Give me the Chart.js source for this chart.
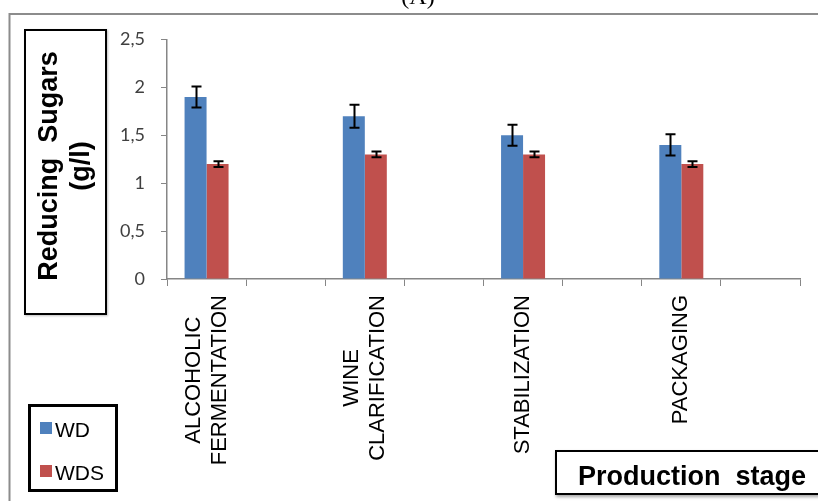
<!DOCTYPE html>
<html>
<head>
<meta charset="utf-8">
<script src="https://cdn.jsdelivr.net/npm/chart.js@4.4.1/dist/chart.umd.min.js"></script>
<style>
  html, body { margin: 0; padding: 0; background: #fff; }
  canvas { display: block; }
</style>
</head>
<body>
<canvas id="chart" width="818" height="501"></canvas>
<script>
// Production stages (empty slots keep the spacing between groups)
const stages = [['ALCOHOLIC', 'FERMENTATION'], '', ['WINE', 'CLARIFICATION'], '', 'STABILIZATION', '', 'PACKAGING', ''];
// Reducing sugars (g/l) and their standard deviations
const wdValues  = [1.9, null, 1.7, null, 1.5, null, 1.4, null];
const wdErrors  = [0.11, null, 0.12, null, 0.11, null, 0.11, null];
const wdsValues = [1.2, null, 1.3, null, 1.3, null, 1.2, null];
const wdsErrors = [0.03, null, 0.03, null, 0.03, null, 0.03, null];
const yTicks = [0, 0.5, 1, 1.5, 2, 2.5];
const seriesNames = ['WD', 'WDS'];
const yTitleLines = ['Reducing  Sugars', '(g/l)'];
const xTitle = 'Production  stage';
const panelTag = '(A)';

const COLORS = ['#4F81BD', '#C0504D'];
const AXIS_GREY = '#868686';

// Page background, outer frame and panel tag
const framePlugin = {
  id: 'frame',
  beforeDraw(chart) {
    const ctx = chart.ctx;
    ctx.save();
    ctx.fillStyle = '#fff';
    ctx.fillRect(0, 0, chart.width, chart.height);
    ctx.strokeStyle = '#8c8c8c';
    ctx.lineWidth = 2;
    ctx.beginPath();
    ctx.moveTo(9.5, chart.height + 2);
    ctx.lineTo(9.5, 14);
    ctx.lineTo(chart.width + 2, 14);
    ctx.stroke();
    ctx.fillStyle = '#000';
    ctx.font = '24px "Liberation Serif"';
    ctx.textAlign = 'center';
    ctx.textBaseline = 'alphabetic';
    ctx.fillText(panelTag, 418, 4);
    ctx.restore();
  }
};

// Error bars on top of each bar
const errorBarPlugin = {
  id: 'errorBars',
  afterDatasetsDraw(chart) {
    const ctx = chart.ctx;
    const y = chart.scales.y;
    ctx.save();
    ctx.strokeStyle = '#000';
    ctx.lineWidth = 2;
    chart.data.datasets.forEach((ds, di) => {
      const meta = chart.getDatasetMeta(di);
      meta.data.forEach((bar, i) => {
        const v = ds.data[i], e = ds.errors[i];
        if (v == null || e == null) return;
        const x = Math.round(bar.x) + 0.5;
        const yTop = y.getPixelForValue(v + e);
        const yBot = y.getPixelForValue(v - e);
        const half = 5;
        ctx.beginPath();
        ctx.moveTo(x, yTop); ctx.lineTo(x, yBot);
        ctx.moveTo(x - half, yTop); ctx.lineTo(x + half, yTop);
        ctx.moveTo(x - half, yBot); ctx.lineTo(x + half, yBot);
        ctx.stroke();
      });
    });
    ctx.restore();
  }
};

// Category labels, axis titles in boxes and the legend box
const decorPlugin = {
  id: 'decor',
  afterDraw(chart) {
    const ctx = chart.ctx;
    const xs = chart.scales.x;
    ctx.save();

    // rotated, centred category labels
    ctx.fillStyle = '#000';
    ctx.font = '22px "Liberation Sans"';
    ctx.textAlign = 'center';
    ctx.textBaseline = 'middle';
    const labelTop = xs.top + 16;
    const lineGap = 26;
    stages.forEach((lab, i) => {
      const lines = Array.isArray(lab) ? lab : [lab];
      if (!lines.join('')) return;
      const maxW = Math.max(...lines.map(l => ctx.measureText(l).width));
      const cx = xs.getPixelForValue(i);
      const cy = labelTop + maxW / 2;
      ctx.save();
      ctx.translate(cx, cy);
      ctx.rotate(-Math.PI / 2);
      lines.forEach((l, k) => {
        ctx.fillText(l, 0, (k - (lines.length - 1) / 2) * lineGap);
      });
      ctx.restore();
    });

    // y-axis title box
    ctx.lineWidth = 2;
    ctx.strokeStyle = '#000';
    ctx.save();
    ctx.shadowColor = 'rgba(0,0,0,0.25)';
    ctx.shadowOffsetX = 1;
    ctx.shadowOffsetY = 1;
    ctx.shadowBlur = 2;
    ctx.fillStyle = '#fff';
    ctx.fillRect(24, 29, 83, 286);
    ctx.restore();
    ctx.strokeRect(25, 30, 81, 284);
    ctx.save();
    ctx.translate(66, 166);
    ctx.rotate(-Math.PI / 2);
    ctx.fillStyle = '#000';
    ctx.font = 'bold 27px "Liberation Sans"';
    ctx.textAlign = 'center';
    ctx.textBaseline = 'alphabetic';
    ctx.fillText(yTitleLines[0], 0, -9);
    ctx.fillText(yTitleLines[1], 0, 23);
    ctx.restore();

    // x-axis title box
    ctx.save();
    ctx.shadowColor = 'rgba(0,0,0,0.35)';
    ctx.shadowOffsetX = 1;
    ctx.shadowOffsetY = 2;
    ctx.shadowBlur = 3;
    ctx.fillStyle = '#fff';
    ctx.fillRect(555, 450, 280, 45);
    ctx.restore();
    ctx.strokeRect(556, 451, 280, 43);
    ctx.fillStyle = '#000';
    ctx.font = 'bold 27px "Liberation Sans"';
    ctx.textAlign = 'left';
    ctx.textBaseline = 'alphabetic';
    ctx.fillText(xTitle, 578, 485);

    // legend box
    ctx.lineWidth = 3;
    ctx.strokeRect(29.5, 405.5, 87, 85);
    ctx.font = '21px "Liberation Sans"';
    const legendRows = [422, 465];
    chart.data.datasets.forEach((ds, di) => {
      const top = legendRows[di];
      ctx.fillStyle = ds.backgroundColor;
      ctx.fillRect(40, top, 12, 12);
      ctx.fillStyle = '#000';
      ctx.fillText(ds.label, 55, top + 15);
    });

    ctx.restore();
  }
};

new Chart(document.getElementById('chart'), {
  type: 'bar',
  data: {
    labels: stages,
    datasets: [
      { label: seriesNames[0], data: wdValues, errors: wdErrors, backgroundColor: COLORS[0] },
      { label: seriesNames[1], data: wdsValues, errors: wdsErrors, backgroundColor: COLORS[1] }
    ]
  },
  options: {
    responsive: false,
    animation: false,
    devicePixelRatio: 1,
    layout: { padding: { left: 0, top: 39.5, right: 18, bottom: 0 } },
    datasets: { bar: { categoryPercentage: 0.556, barPercentage: 1 } },
    plugins: { legend: { display: false }, tooltip: { enabled: false }, title: { display: false } },
    scales: {
      x: {
        offset: true,
        grid: { display: true, offset: true, drawOnChartArea: false, tickLength: 7, color: AXIS_GREY },
        border: { color: AXIS_GREY, width: 1.5 },
        ticks: { display: false },
        afterFit(scale) { scale.height = 222; }
      },
      y: {
        min: 0,
        max: 2.5,
        afterBuildTicks(scale) { scale.ticks = yTicks.map(v => ({ value: v })); },
        grid: { drawOnChartArea: false, tickLength: 6, color: AXIS_GREY },
        border: { color: AXIS_GREY, width: 1.5 },
        ticks: {
          padding: 16,
          color: '#404040',
          font: { family: 'Lato', size: 18 },
          callback: v => String(v).replace('.', ',')
        },
        afterFit(scale) { scale.width = 167; }
      }
    }
  },
  plugins: [framePlugin, errorBarPlugin, decorPlugin]
});
</script>
</body>
</html>
